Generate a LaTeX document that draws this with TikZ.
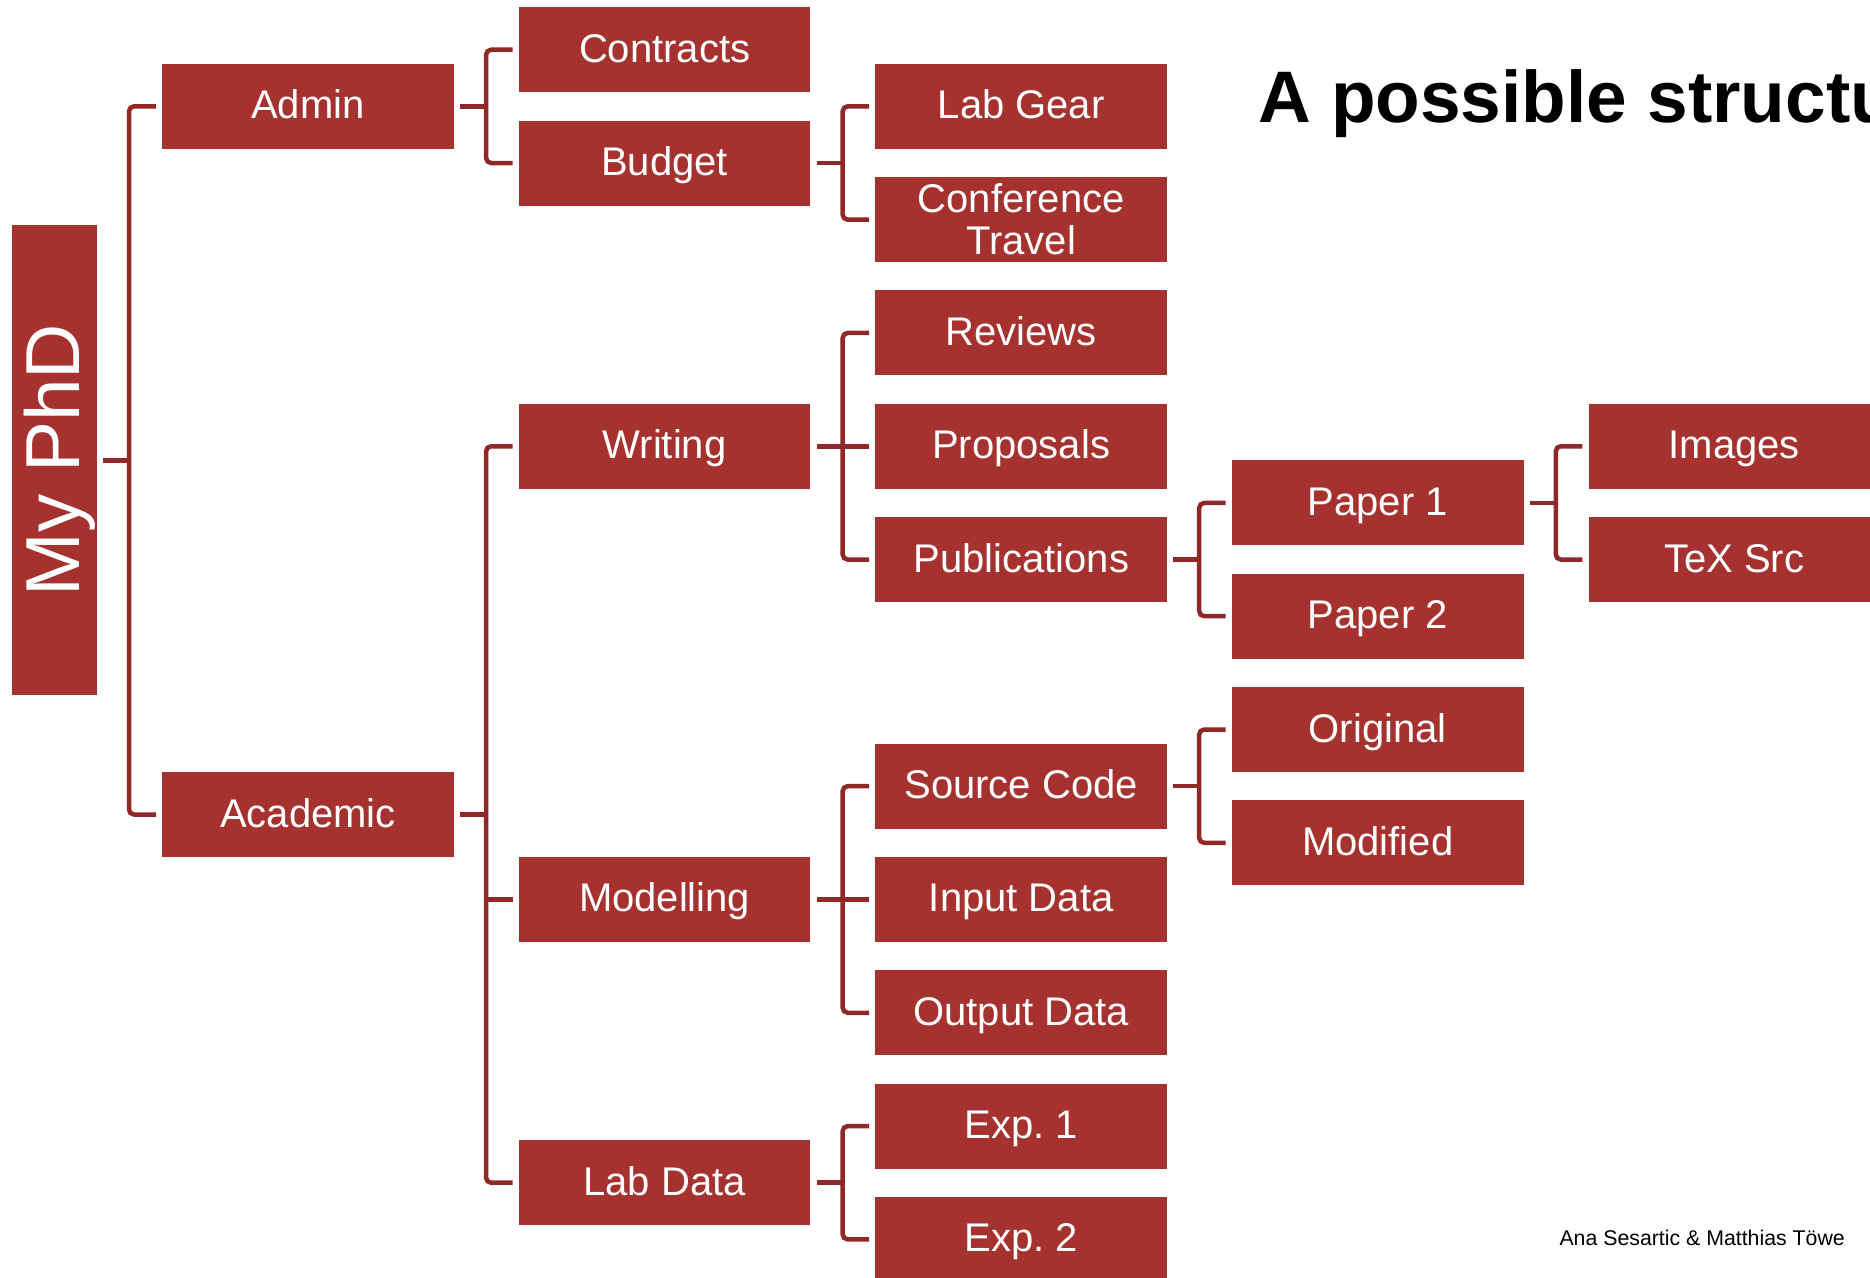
\documentclass[tikz,border=0pt]{standalone}
\usepackage{fontspec}
\setmainfont{Liberation Sans}
\frenchspacing
\definecolor{boxred}{RGB}{166,50,48}
\definecolor{linered}{RGB}{145,40,40}
\begin{document}
\begin{tikzpicture}[x=1pt,y=-1pt,
  boxbase/.style={fill=boxred, minimum width=291.6pt, minimum height=85pt, inner sep=0pt,
    text=white, font=\fontsize{40}{42}\selectfont},
  box/.style={boxbase, text height=25pt, text depth=0pt},
  conn/.style={draw=linered, line width=4.5pt, rounded corners=5pt}]
\useasboundingbox (0,0) rectangle (1870,1277);

% root
\node[fill=boxred, minimum width=85pt, minimum height=470pt, inner sep=0pt] (phd) at (54.5,460.4) {};
\node[rotate=90, anchor=base, text=white, inner sep=0pt, font=\fontsize{76.5}{80}\selectfont] (phdlabel) at (79,460) {My PhD};

% column 1
\node[box] (admin) at (308,106.35) {Admin};
\node[box] (academic) at (308,814.5) {Academic};
% column 2
\node[box] (contracts) at (664.6,49.7) {Contracts};
\node[box] (budget) at (664.6,163.0) {Budget};
\node[box] (writing) at (664.6,446.25) {Writing};
\node[box] (modelling) at (664.6,899.45) {Modelling};
\node[box] (labdata) at (664.6,1182.7) {Lab Data};
% column 3
\node[box] (labgear) at (1021.2,106.35) {Lab Gear};
\node[boxbase, align=center] (conftravel) at (1021.2,219.65) {Conference\\Travel};
\node[box] (reviews) at (1021.2,332.95) {Reviews};
\node[box] (proposals) at (1021.2,446.25) {Proposals};
\node[box] (publications) at (1021.2,559.55) {Publications};
\node[box] (sourcecode) at (1021.2,786.15) {Source Code};
\node[box] (inputdata) at (1021.2,899.45) {Input Data};
\node[box] (outputdata) at (1021.2,1012.75) {Output Data};
\node[box] (exp1) at (1021.2,1126.05) {Exp. 1};
\node[box] (exp2) at (1021.2,1239.35) {Exp. 2};
% column 4
\node[box] (paper1) at (1377.7,502.9) {Paper 1};
\node[box] (paper2) at (1377.7,616.2) {Paper 2};
\node[box] (original) at (1377.7,729.5) {Original};
\node[box] (modified) at (1377.7,842.8) {Modified};
% column 5
\node[box] (images) at (1734.3,446.25) {Images};
\node[box] (texsrc) at (1734.3,559.55) {TeX Src};

% title and credit
\node[anchor=base west, inner sep=0pt, font=\fontsize{73}{78}\selectfont\bfseries] (title) at (1258,122) {A possible structure};
\node[anchor=base east, inner sep=0pt, font=\fontsize{21.3}{24}\selectfont] (credit) at (1845,1245) {Ana Sesartic \& Matthias Töwe};

% connectors: root
\draw[conn] ([xshift=6pt]phd.east) -- ([xshift=-33pt]admin.west |- phd.east);
\draw[conn] ([xshift=-6pt]admin.west) -| ([xshift=-33pt]academic.west) -- ([xshift=-6pt]academic.west);

% admin
\draw[conn] ([xshift=6pt]admin.east) -- ([xshift=-32.5pt]contracts.west |- admin.east);
\draw[conn] ([xshift=-6pt]contracts.west) -| ([xshift=-32.5pt]budget.west) -- ([xshift=-6pt]budget.west);
% budget
\draw[conn] ([xshift=6pt]budget.east) -- ([xshift=-32.5pt]labgear.west |- budget.east);
\draw[conn] ([xshift=-6pt]labgear.west) -| ([xshift=-32.5pt]conftravel.west) -- ([xshift=-6pt]conftravel.west);

% academic
\draw[conn] ([xshift=6pt]academic.east) -- ([xshift=-32.5pt]writing.west |- academic.east);
\draw[conn] ([xshift=-6pt]writing.west) -| ([xshift=-32.5pt]labdata.west) -- ([xshift=-6pt]labdata.west);
\draw[conn] ([xshift=-32.5pt]modelling.west) -- ([xshift=-6pt]modelling.west);

% writing
\draw[conn] ([xshift=6pt]writing.east) -- ([xshift=-32.5pt]proposals.west);
\draw[conn] ([xshift=-6pt]reviews.west) -| ([xshift=-32.5pt]publications.west) -- ([xshift=-6pt]publications.west);
\draw[conn] ([xshift=-32.5pt]proposals.west) -- ([xshift=-6pt]proposals.west);

% publications
\draw[conn] ([xshift=6pt]publications.east) -- ([xshift=-32.5pt]paper1.west |- publications.east);
\draw[conn] ([xshift=-6pt]paper1.west) -| ([xshift=-32.5pt]paper2.west) -- ([xshift=-6pt]paper2.west);

% paper 1
\draw[conn] ([xshift=6pt]paper1.east) -- ([xshift=-32.5pt]images.west |- paper1.east);
\draw[conn] ([xshift=-6pt]images.west) -| ([xshift=-32.5pt]texsrc.west) -- ([xshift=-6pt]texsrc.west);

% modelling
\draw[conn] ([xshift=6pt]modelling.east) -- ([xshift=-32.5pt]inputdata.west);
\draw[conn] ([xshift=-6pt]sourcecode.west) -| ([xshift=-32.5pt]outputdata.west) -- ([xshift=-6pt]outputdata.west);
\draw[conn] ([xshift=-32.5pt]inputdata.west) -- ([xshift=-6pt]inputdata.west);

% source code
\draw[conn] ([xshift=6pt]sourcecode.east) -- ([xshift=-32.5pt]original.west |- sourcecode.east);
\draw[conn] ([xshift=-6pt]original.west) -| ([xshift=-32.5pt]modified.west) -- ([xshift=-6pt]modified.west);

% lab data
\draw[conn] ([xshift=6pt]labdata.east) -- ([xshift=-32.5pt]exp1.west |- labdata.east);
\draw[conn] ([xshift=-6pt]exp1.west) -| ([xshift=-32.5pt]exp2.west) -- ([xshift=-6pt]exp2.west);
\end{tikzpicture}
\end{document}
